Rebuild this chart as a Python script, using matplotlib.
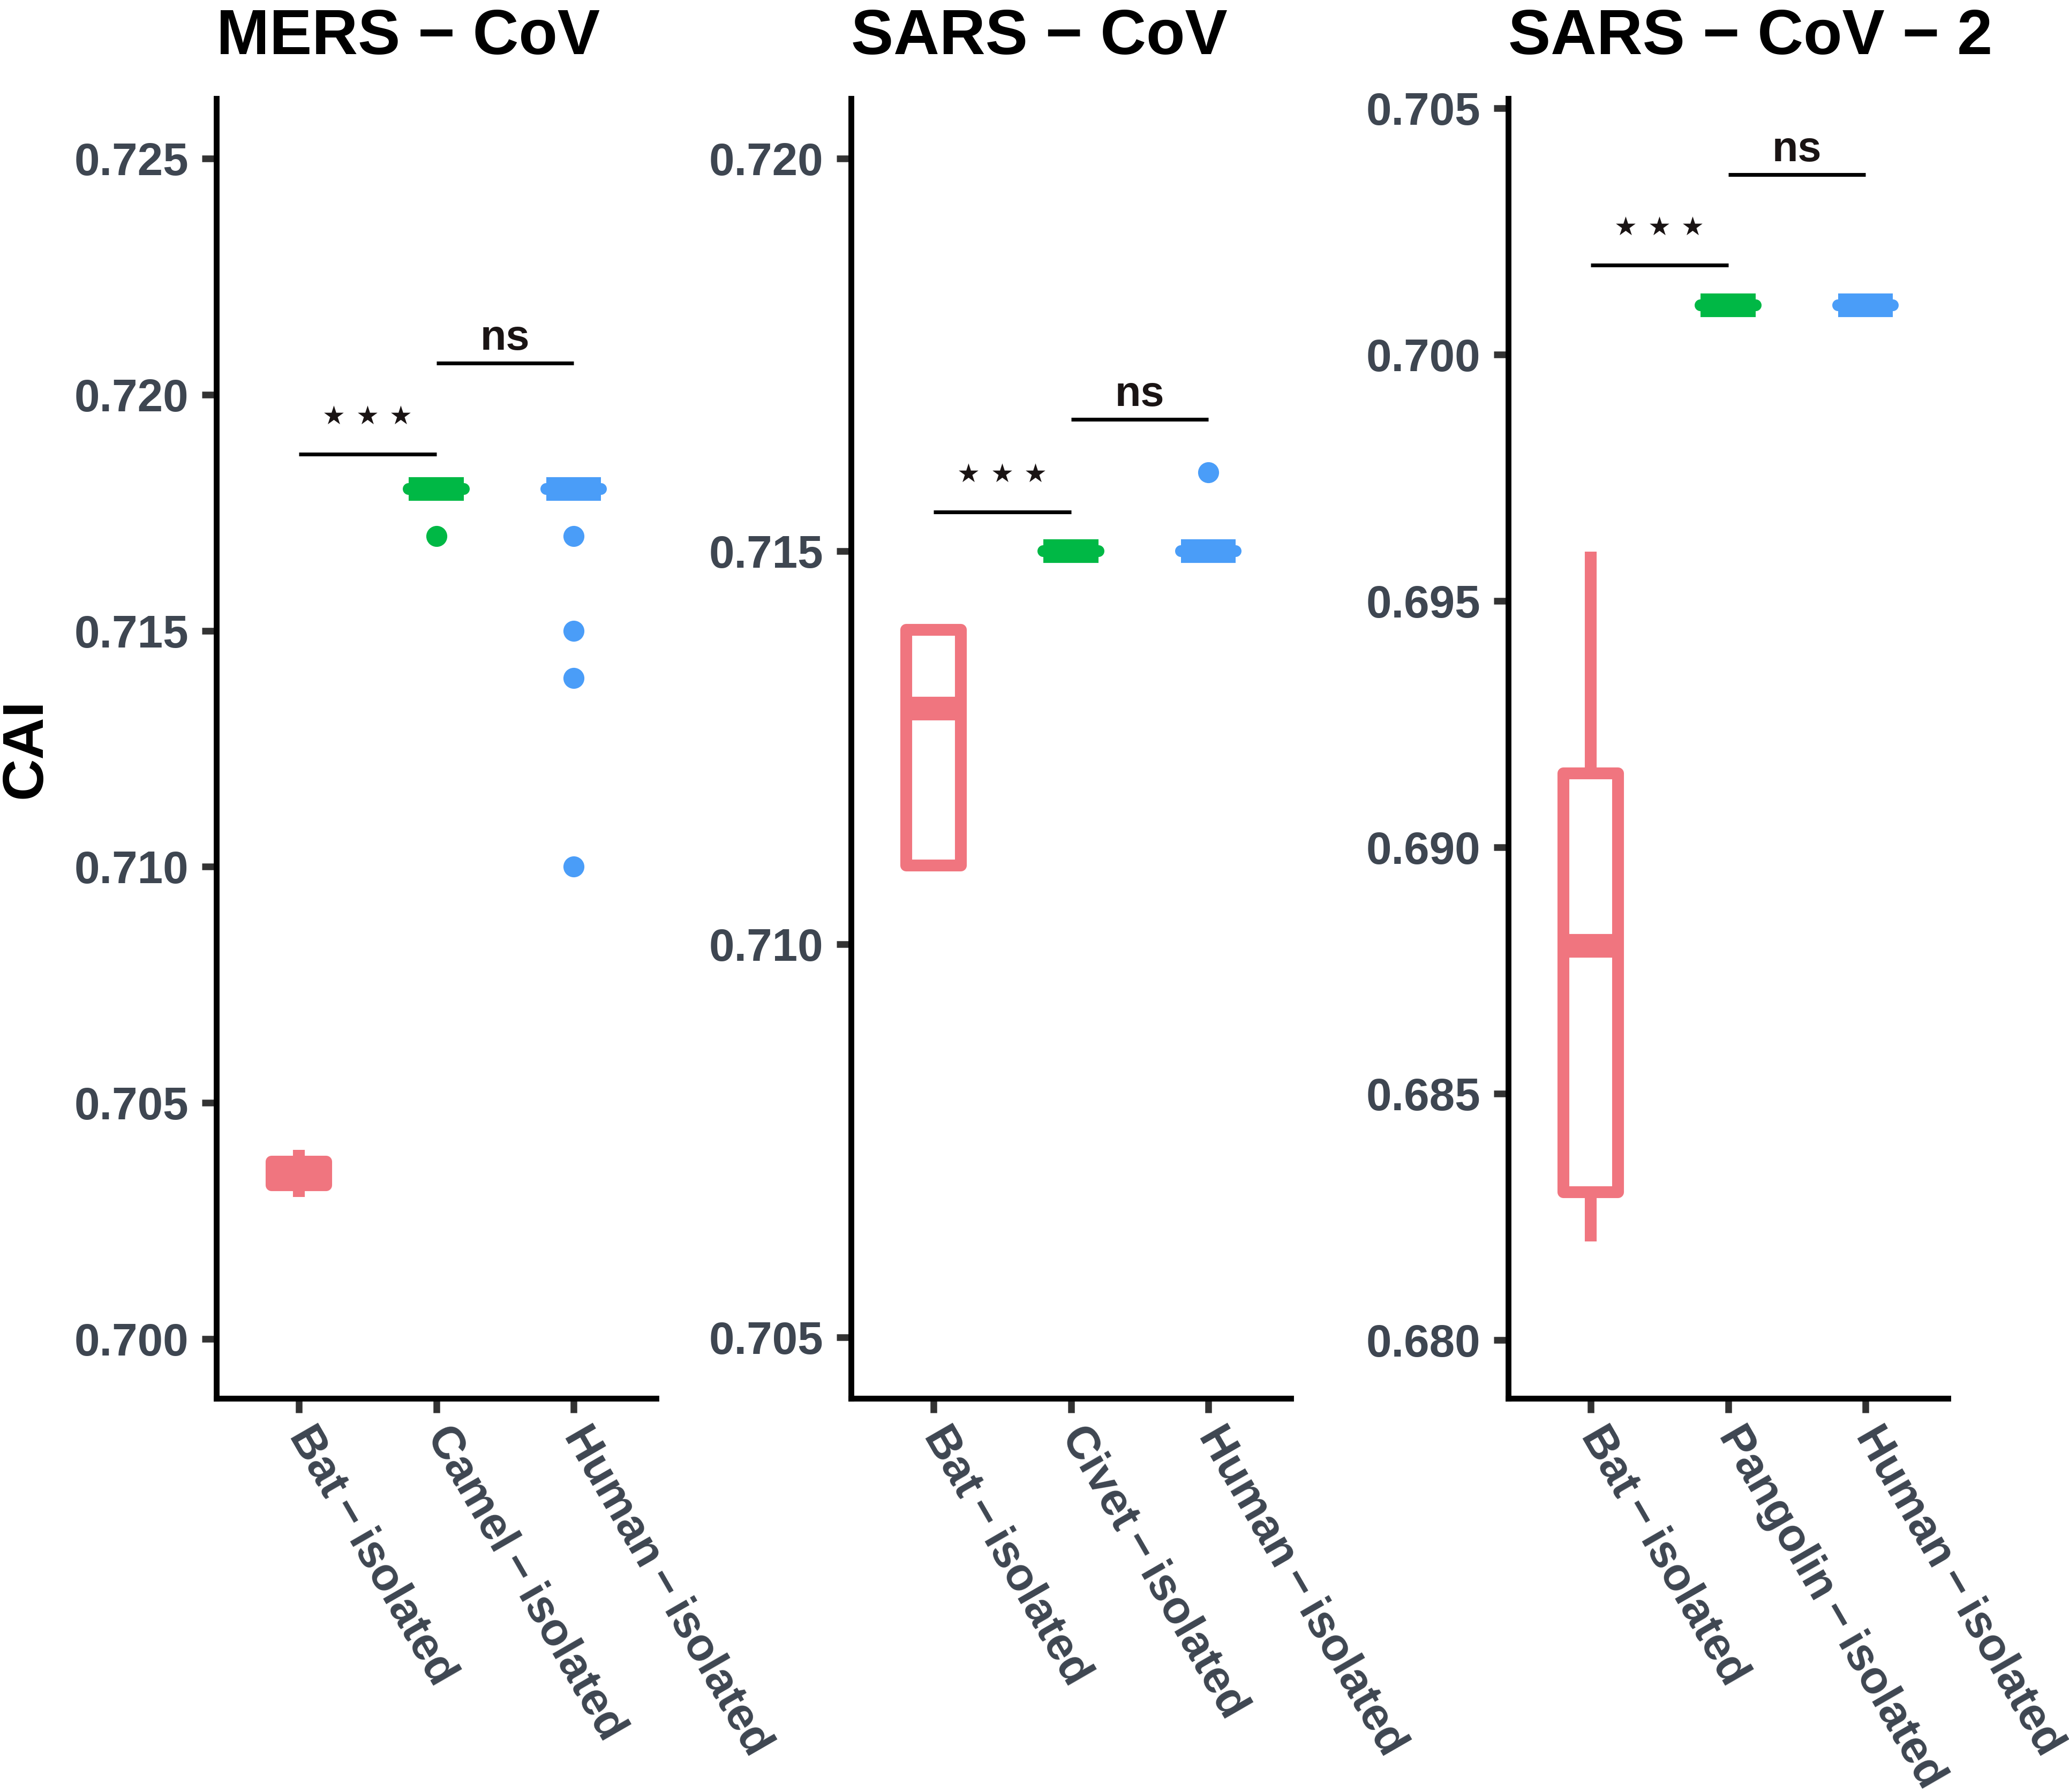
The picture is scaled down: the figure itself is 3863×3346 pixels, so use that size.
import matplotlib
matplotlib.use("Agg")
import matplotlib.pyplot as plt

plt.rcParams['font.family'] = ['Liberation Sans', 'DejaVu Sans']

# ---- data ----
titles = ["MERS \u2212 CoV", "SARS \u2212 CoV", "SARS \u2212 CoV \u2212 2"]
hosts = [["Bat", "Camel", "Human"], ["Bat", "Civet", "Human"], ["Bat", "Pangolin", "Human"]]

# box statistics per panel, groups in order [Bat, middle host, Human]
q1 = [[0.70325, 0.718, 0.718], [0.711, 0.715, 0.715], [0.683, 0.701, 0.701]]
med = [[0.7035, 0.718, 0.718], [0.713, 0.715, 0.715], [0.688, 0.701, 0.701]]
q3 = [[0.70375, 0.718, 0.718], [0.714, 0.715, 0.715], [0.6915, 0.701, 0.701]]
whislo = [[0.7030, 0.718, 0.718], [0.711, 0.715, 0.715], [0.682, 0.701, 0.701]]
whishi = [[0.7040, 0.718, 0.718], [0.714, 0.715, 0.715], [0.696, 0.701, 0.701]]
outliers = [[[], [0.717], [0.717, 0.715, 0.714, 0.710]],
            [[], [], [0.716]],
            [[], [], []]]

ylims = [(0.69874, 0.72627), (0.70422, 0.72076), (0.67882, 0.7052)]
yticks = [[0.700, 0.705, 0.710, 0.715, 0.720, 0.725],
          [0.705, 0.710, 0.715, 0.720],
          [0.680, 0.685, 0.690, 0.695, 0.700, 0.705]]

# significance brackets: (x1, x2) pairs and bar heights
sig_pairs = [(1, 2), (2, 3)]
sig_labels = ["***", "ns"]
sig_y = [[0.71874, 0.72067], [0.7155, 0.71668], [0.70182, 0.70366]]

colors = ["#F0757F", "#00B845", "#4A9DF8"]

# ---- style ----
W, H, DPI = 3863, 3346, 300
LW = 5.3
BOXW = 0.4
TICK_COL = "#3E4651"
lefts = [404 / W, 1589 / W, 2816 / W]
ax_w = 821 / W
ax_b = 1 - 2611 / H
ax_h = (2611 - 184) / H

fig = plt.figure(figsize=(W / DPI, H / DPI), dpi=DPI)

for p in range(3):
    ax = fig.add_axes([lefts[p], ax_b, ax_w, ax_h])
    stats = []
    for j in range(3):
        stats.append(dict(med=med[p][j], q1=q1[p][j], q3=q3[p][j],
                          whislo=whislo[p][j], whishi=whishi[p][j],
                          fliers=outliers[p][j]))
    bp = ax.bxp(stats, positions=[1, 2, 3], widths=BOXW, patch_artist=True,
                showcaps=False, manage_ticks=False)
    for j in range(3):
        c = colors[j]
        bp['boxes'][j].set(facecolor='white', edgecolor=c, linewidth=LW, joinstyle='round')
        bp['medians'][j].set(color=c, linewidth=2 * LW, solid_capstyle='butt', zorder=3)
        for w in bp['whiskers'][2 * j:2 * j + 2]:
            w.set(color=c, linewidth=LW, solid_capstyle='butt')
        bp['fliers'][j].set(marker='o', markerfacecolor=c, markeredgecolor=c,
                            markersize=8.4, linestyle='none')
        # collapsed box: outline drawn as a flat stroke with rounded ends
        if q1[p][j] == q3[p][j]:
            ax.plot([j + 1 - BOXW / 2, j + 1 + BOXW / 2], [q1[p][j], q1[p][j]],
                    color=c, lw=LW, solid_capstyle='round', zorder=2.5)

    # significance bars
    for k, (x1, x2) in enumerate(sig_pairs):
        y = sig_y[p][k]
        ax.plot([x1, x2], [y, y], color='black', lw=1.7, solid_capstyle='butt')
        xm = (x1 + x2) / 2
        if sig_labels[k] == "***":
            for dx in (-15, 0, 15):
                ax.annotate("\u2605", xy=(xm, y), xytext=(dx, 16.8), textcoords='offset points',
                            ha='center', va='center', fontsize=11.5, color='#1a1414',
                            family=['DejaVu Sans'])
        else:
            ax.annotate(sig_labels[k], xy=(xm, y), xytext=(0, 6), textcoords='offset points',
                        ha='center', va='baseline', fontsize=19, fontweight='bold', color='#1a1414')

    ax.set_xlim(0.4, 3.6)
    ax.set_ylim(*ylims[p])
    ax.set_yticks(yticks[p])
    ax.set_yticklabels([f"{v:.3f}" for v in yticks[p]])
    ax.set_xticks([1, 2, 3])
    ax.set_xticklabels([h + "\u2009\u2212\u2009isolated" for h in hosts[p]],
                       rotation=-60, ha='left', va='center', rotation_mode='anchor')

    for s in ('top', 'right'):
        ax.spines[s].set_visible(False)
    for s in ('left', 'bottom'):
        ax.spines[s].set_linewidth(2.6)
        ax.spines[s].set_color('black')
    ax.tick_params(axis='both', length=6.5, width=3, color='#333333', direction='out',
                   labelsize=20.5, labelcolor=TICK_COL, pad=6)
    ax.tick_params(axis='x', pad=7.5)
    for lab in ax.get_xticklabels() + ax.get_yticklabels():
        lab.set_fontweight('bold')

    ax.set_title(titles[p], loc='left', fontsize=28.5, fontweight='bold', pad=20)

fig.text(48 / W, 1 - 1398 / H, "CAI", rotation=90, ha='center', va='center',
         fontsize=26, fontweight='bold')

fig.savefig("out.png", dpi=DPI)
